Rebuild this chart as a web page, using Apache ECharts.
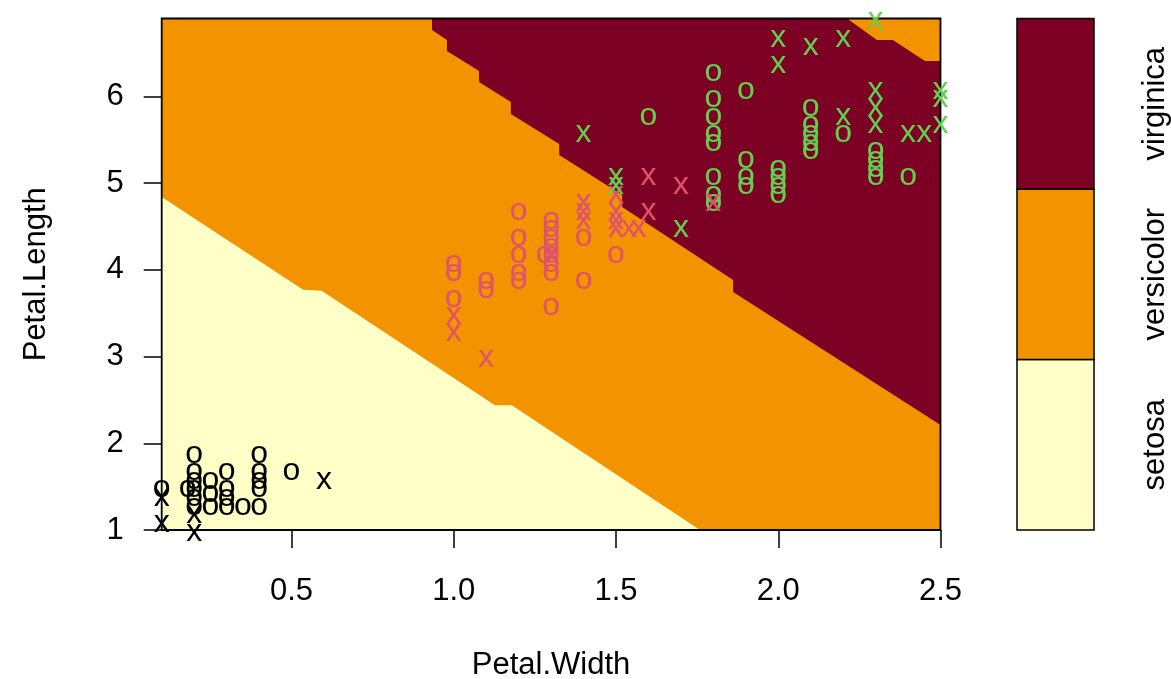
<!DOCTYPE html>
<html>
<head>
<meta charset="utf-8">
<script src="https://cdn.jsdelivr.net/npm/echarts@6/dist/echarts.min.js"></script>
<style>
  html, body { margin: 0; padding: 0; background: #fff; }
  #chart { width: 1171px; height: 679px; }
</style>
</head>
<body>
<div id="chart"></div>
<script>
// Classes and axis ranges
const classNames = ["setosa", "versicolor", "virginica"];
const xRange = [0.1, 2.5];
const yRange = [1.0, 6.9];
const xTicks = [0.5, 1.0, 1.5, 2.0, 2.5];
const yTicks = [1, 2, 3, 4, 5, 6];

// Decision region boundaries [Petal.Width, Petal.Length]
const setosaEdge = [[0.1, 4.84], [0.536, 3.77], [0.593, 3.76], [1.127, 2.44], [1.179, 2.44], [1.759, 1.0]];
const virginicaEdge = [
  [0.933, 6.9], [0.933, 6.767], [0.979, 6.652], [0.979, 6.525], [1.078, 6.294], [1.078, 6.167],
  [1.176, 5.937], [1.176, 5.798], [1.325, 5.452], [1.325, 5.325], [1.519, 4.864], [1.519, 4.725],
  [1.861, 3.884], [1.861, 3.745], [2.5, 2.211],
];
const cornerEdge = [[2.5, 6.409], [2.452, 6.409], [2.353, 6.652], [2.304, 6.652], [2.212, 6.9]];

// Data points (o = ordinary, x = support vector)
const setosaO = [
  [0.1, 1.5], [0.18, 1.5],
  [0.2, 1.9], [0.2, 1.7], [0.2, 1.6], [0.2, 1.5], [0.2, 1.4], [0.2, 1.3],
  [0.25, 1.6], [0.25, 1.45], [0.25, 1.3],
  [0.3, 1.7], [0.3, 1.5], [0.3, 1.4], [0.3, 1.3],
  [0.35, 1.3],
  [0.4, 1.9], [0.4, 1.7], [0.4, 1.6], [0.4, 1.5], [0.4, 1.3],
  [0.5, 1.7],
];
const setosaX = [[0.1, 1.4], [0.1, 1.1], [0.2, 1.2], [0.2, 1.0], [0.6, 1.6]];
const versicolorO = [
  [1.0, 4.1], [1.0, 4.0], [1.0, 3.7],
  [1.1, 3.9], [1.1, 3.8],
  [1.2, 4.7], [1.2, 4.4], [1.2, 4.2], [1.2, 4.0], [1.2, 3.9],
  [1.28, 4.2],
  [1.3, 4.6], [1.3, 4.5], [1.3, 4.4], [1.3, 4.3], [1.3, 4.2], [1.3, 4.1], [1.3, 4.0], [1.3, 3.6],
  [1.4, 4.4], [1.4, 3.9],
  [1.5, 4.2],
];
const versicolorX = [
  [1.0, 3.5], [1.0, 3.3], [1.1, 3.0], [1.3, 4.2],
  [1.4, 4.8], [1.4, 4.7], [1.4, 4.6],
  [1.5, 4.9], [1.5, 4.7], [1.5, 4.6], [1.5, 4.5], [1.54, 4.5], [1.57, 4.5],
  [1.6, 5.1], [1.6, 4.7], [1.7, 5.0], [1.8, 4.8],
];
const virginicaO = [
  [1.6, 5.8],
  [1.8, 6.3], [1.8, 6.0], [1.8, 5.8], [1.8, 5.6], [1.8, 5.5], [1.8, 5.1], [1.8, 4.9], [1.8, 4.8],
  [1.9, 6.1], [1.9, 5.3], [1.9, 5.1], [1.9, 5.0],
  [2.0, 5.2], [2.0, 5.1], [2.0, 5.0], [2.0, 4.9],
  [2.1, 5.9], [2.1, 5.7], [2.1, 5.6], [2.1, 5.5], [2.1, 5.4],
  [2.2, 5.6],
  [2.3, 5.4], [2.3, 5.3], [2.3, 5.2], [2.3, 5.1],
  [2.4, 5.1],
];
const virginicaX = [
  [1.4, 5.6], [1.5, 5.1], [1.5, 5.0], [1.7, 4.5],
  [2.0, 6.7], [2.0, 6.4], [2.1, 6.6], [2.2, 6.7], [2.2, 5.8],
  [2.3, 6.9], [2.3, 6.1], [2.3, 5.9], [2.3, 5.7],
  [2.4, 5.6], [2.45, 5.6],
  [2.5, 6.1], [2.5, 6.0], [2.5, 5.7],
];

// Styles
const regionColors = ["#FFFFC8", "#F39300", "#7D0025"];
const pointColors = ["#000000", "#DF536B", "#61D04F"];
const FONT = '"Liberation Sans", Arial, sans-serif';
const FS = 31;

const regions = [
  { color: regionColors[1], points: [[xRange[0], yRange[0]], [xRange[1], yRange[0]], [xRange[1], yRange[1]], [xRange[0], yRange[1]]] },
  { color: regionColors[0], points: [[xRange[0], yRange[0]]].concat(setosaEdge) },
  { color: regionColors[2], points: virginicaEdge.concat(cornerEdge) },
];

function charSeries(data, ch, color) {
  return {
    type: "custom",
    coordinateSystem: "cartesian2d",
    xAxisIndex: 0,
    yAxisIndex: 0,
    silent: true,
    clip: false,
    z: 5,
    data: data,
    renderItem: function (params, api) {
      const c = api.coord([api.value(0), api.value(1)]);
      return {
        type: "text",
        x: c[0],
        y: c[1] + 2,
        style: { text: ch, fill: color, font: "32px " + FONT, align: "center", verticalAlign: "middle" },
      };
    },
  };
}

const chart = echarts.init(document.getElementById("chart"));
const axisText = { color: "#000", fontSize: FS, fontFamily: FONT };
const tickStyle = { color: "#000", width: 1.5 };

chart.setOption({
  animation: false,
  grid: [
    { left: 161.7, top: 18.5, width: 778.8, height: 511.5, outerBoundsMode: "none" },
    { left: 1017, top: 18.5, width: 77, height: 511.5, outerBoundsMode: "none" },
  ],
  xAxis: [
    {
      type: "value", gridIndex: 0, min: xRange[0], max: xRange[1],
      name: "Petal.Width", nameLocation: "middle", nameGap: 120, nameTextStyle: axisText,
      axisLine: { show: false }, splitLine: { show: false },
      axisTick: { show: true, length: 18, lineStyle: tickStyle, customValues: xTicks },
      axisLabel: Object.assign({ margin: 46, customValues: xTicks, formatter: (v) => v.toFixed(1) }, axisText),
    },
    { type: "value", gridIndex: 1, min: 0, max: 1, show: false },
  ],
  yAxis: [
    {
      type: "value", gridIndex: 0, min: yRange[0], max: yRange[1],
      name: "Petal.Length", nameLocation: "middle", nameGap: 110, nameTextStyle: axisText,
      axisLine: { show: false }, splitLine: { show: false },
      axisTick: { show: true, length: 18, lineStyle: tickStyle, customValues: yTicks },
      axisLabel: Object.assign({ margin: 38, customValues: yTicks, formatter: (v) => String(v) }, axisText),
    },
    {
      type: "value", gridIndex: 1, min: 0, max: 3, position: "right",
      axisLine: { show: false }, splitLine: { show: false },
      axisTick: { show: true, length: 18, lineStyle: tickStyle, customValues: [0.5, 1.5, 2.5] },
      axisLabel: Object.assign({
        margin: 46, rotate: 90, customValues: [0.5, 1.5, 2.5],
        formatter: (v) => classNames[Math.floor(v)],
      }, axisText),
    },
  ],
  series: [
    // decision regions
    {
      type: "custom", coordinateSystem: "cartesian2d", xAxisIndex: 0, yAxisIndex: 0, silent: true, z: 1,
      data: regions.map((r) => r.points[0]),
      renderItem: function (params, api) {
        const r = regions[params.dataIndex];
        return { type: "polygon", shape: { points: r.points.map((p) => api.coord(p)) }, style: { fill: r.color } };
      },
    },
    // plot frame
    {
      type: "custom", coordinateSystem: "cartesian2d", xAxisIndex: 0, yAxisIndex: 0, silent: true, z: 3,
      data: [[xRange[0], yRange[0], xRange[1], yRange[1]]],
      renderItem: function (params, api) {
        const a = api.coord([api.value(0), api.value(1)]);
        const b = api.coord([api.value(2), api.value(3)]);
        return {
          type: "rect",
          shape: { x: a[0], y: b[1], width: b[0] - a[0], height: a[1] - b[1] },
          style: { fill: null, stroke: "#000", lineWidth: 1.8 },
        };
      },
    },
    // key
    {
      type: "custom", coordinateSystem: "cartesian2d", xAxisIndex: 1, yAxisIndex: 1, silent: true, z: 3,
      data: classNames.map((n, i) => [i]),
      renderItem: function (params, api) {
        const i = api.value(0);
        const a = api.coord([0, i]);
        const b = api.coord([1, i + 1]);
        return {
          type: "rect",
          shape: { x: a[0], y: b[1], width: b[0] - a[0], height: a[1] - b[1] },
          style: { fill: regionColors[i], stroke: "#000", lineWidth: 1.5 },
        };
      },
    },
    charSeries(setosaO, "o", pointColors[0]),
    charSeries(versicolorO, "o", pointColors[1]),
    charSeries(virginicaO, "o", pointColors[2]),
    charSeries(setosaX, "x", pointColors[0]),
    charSeries(versicolorX, "x", pointColors[1]),
    charSeries(virginicaX, "x", pointColors[2]),
  ],
});
</script>
</body>
</html>
